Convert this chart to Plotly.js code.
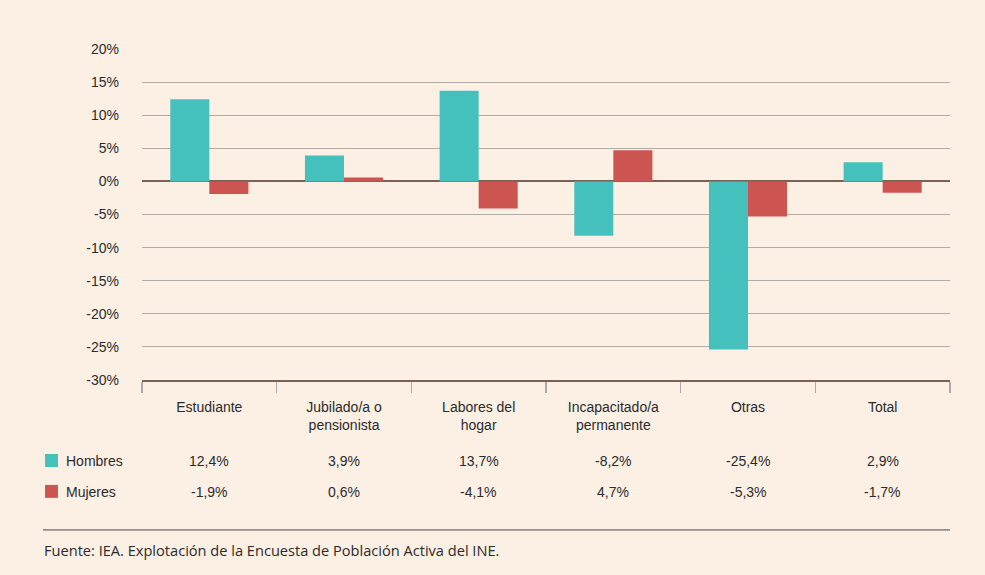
<!DOCTYPE html>
<html>
<head>
<meta charset="utf-8">
<script src="https://cdn.plot.ly/plotly-3.0.1.min.js"></script>
<style>html,body{margin:0;padding:0;background:#FCF0E5;}</style>
</head>
<body>
<div id="chart" style="width:985px;height:575px;"></div>
<script>
const categories = ["Estudiante", "Jubilado/a o<br>pensionista", "Labores del<br>hogar", "Incapacitado/a<br>permanente", "Otras", "Total"];
const hombres = [12.4, 3.9, 13.7, -8.2, -25.4, 2.9];
const mujeres = [-1.9, 0.6, -4.1, 4.7, -5.3, -1.7];
const seriesNames = ["Hombres", "Mujeres"];
const yTicks = [20, 15, 10, 5, 0, -5, -10, -15, -20, -25, -30];
const fuente = "Fuente: IEA. Explotación de la Encuesta de Población Activa del INE.";

const teal = "#44C1BD", red = "#CC5551";
const fmt = v => v.toFixed(1).replace(".", ",") + "%";

const traces = [
  {type: "bar", name: seriesNames[0], x: categories, y: hombres, marker: {color: teal}, hoverinfo: "skip"},
  {type: "bar", name: seriesNames[1], x: categories, y: mujeres, marker: {color: red}, hoverinfo: "skip"}
];

const font = {family: "Liberation Sans, Arial, sans-serif", size: 14, color: "#2b2b2b"};
const annotations = [];
const rows = [[hombres, -0.245], [mujeres, -0.338]];
rows.forEach(([vals, yy]) => {
  vals.forEach((v, i) => annotations.push({x: categories[i], xref: "x", y: yy, yref: "paper", text: fmt(v), showarrow: false, font: font, xanchor: "center", yanchor: "middle"}));
});
seriesNames.forEach((n, k) => annotations.push({x: -0.0965, xref: "paper", y: rows[k][1], yref: "paper", text: n, showarrow: false, font: font, xanchor: "left", yanchor: "middle"}));
annotations.push({x: -0.1235, xref: "paper", y: -0.514, yref: "paper", text: fuente, showarrow: false, xanchor: "left", yanchor: "middle", font: {family: "Open Sans, Noto Sans, sans-serif", size: 14.6, color: "#2b2b2b"}});

const shapes = [
  {type: "rect", xref: "paper", yref: "paper", x0: -0.12, x1: -0.104, y0: -0.2236, y1: -0.2628, fillcolor: teal, line: {width: 0}},
  {type: "rect", xref: "paper", yref: "paper", x0: -0.12, x1: -0.104, y0: -0.317, y1: -0.356, fillcolor: red, line: {width: 0}},
  {type: "line", xref: "paper", yref: "paper", x0: -0.1225, x1: 1, y0: -0.453, y1: -0.453, line: {color: "#444", width: 1}}
];

const layout = {
  width: 985, height: 575,
  paper_bgcolor: "#FCF0E5", plot_bgcolor: "#FCF0E5",
  margin: {l: 142, r: 35, t: 49, b: 195},
  barmode: "group", bargap: 0.42, bargroupgap: 0,
  showlegend: false,
  font: font,
  xaxis: {
    type: "category", tickson: "boundaries", ticks: "outside", ticklen: 11, tickcolor: "#aaa", tickwidth: 1.5,
    showline: true, linecolor: "#7a6155", linewidth: 2, showgrid: false, zeroline: false,
    ticklabelstandoff: 13,
    tickfont: font, fixedrange: true
  },
  yaxis: {
    range: [-30, 20], tickvals: yTicks, ticktext: yTicks.map(v => v + "%"),
    showgrid: true, gridcolor: "#b0aca8", gridwidth: 1.2,
    zeroline: true, zerolinecolor: "#7a6155", zerolinewidth: 2,
    ticks: "", ticklabelstandoff: 22, tickfont: font, showline: false, fixedrange: true
  },
  annotations: annotations,
  shapes: shapes
};

Plotly.newPlot("chart", traces, layout, {displayModeBar: false, staticPlot: true});
</script>
</body>
</html>
